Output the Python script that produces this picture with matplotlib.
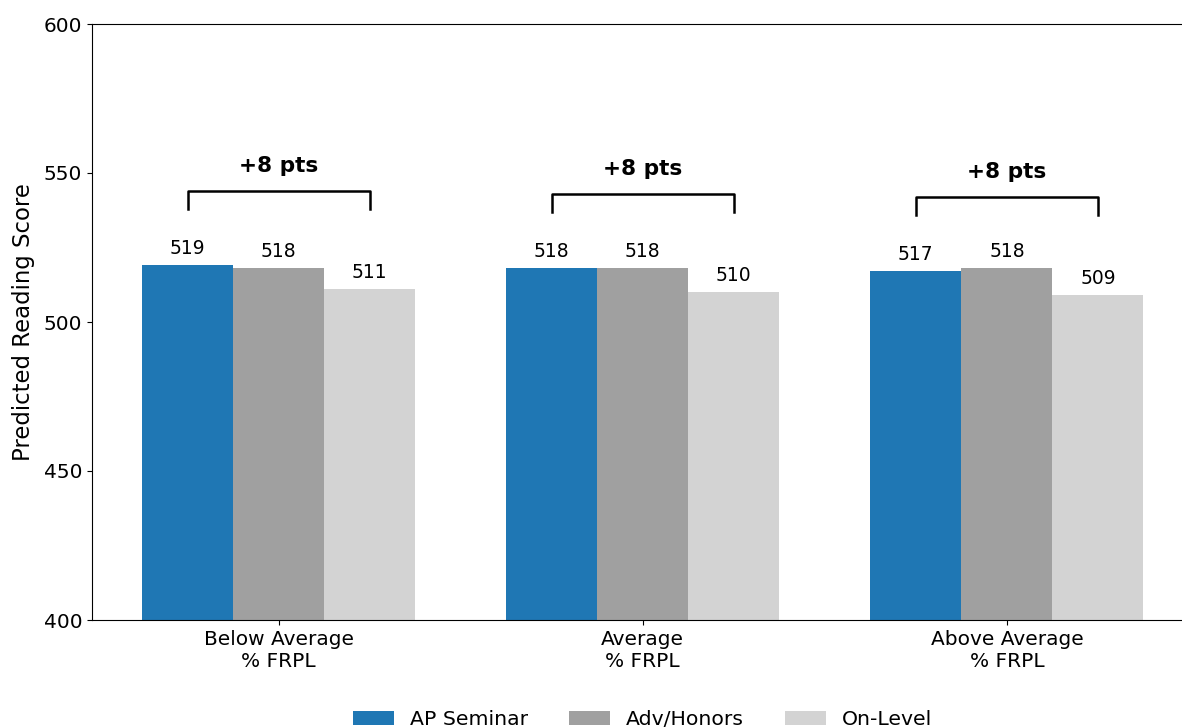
import numpy as np
import matplotlib.pyplot as plt

groups = ["Below Average\n% FRPL", "Average\n% FRPL", "Above Average\n% FRPL"]
series = ["AP Seminar", "Adv/Honors", "On-Level"]
ap_seminar = [519, 518, 517]
adv_honors = [518, 518, 518]
on_level = [511, 510, 509]
colors = ["#1f77b4", "#a0a0a0", "#d3d3d3"]

values = [ap_seminar, adv_honors, on_level]
x = np.arange(len(groups))
width = 0.25

fig = plt.figure(figsize=(11.82, 7.28), dpi=100)
ax = fig.add_axes([92 / 1182, 108 / 728, 1101.5 / 1182, 596 / 728])

for i, (name, vals) in enumerate(zip(series, values)):
    bars = ax.bar(x + (i - 1) * width, vals, width, label=name, color=colors[i])
    for b, v in zip(bars, vals):
        ax.annotate(f"{v}", (b.get_x() + b.get_width() / 2, v), xytext=(0, 5),
                    textcoords="offset points", ha="center", va="bottom", fontsize=13.5)

# bracket between AP Seminar and On-Level with the gap
for xi, top, low in zip(x, ap_seminar, on_level):
    y = top + 25
    ax.plot([xi - width, xi - width, xi + width, xi + width], [y - 6, y, y, y - 6],
            color="black", lw=1.8)
    ax.text(xi, y + 5, f"+{top - low} pts", ha="center", va="bottom",
            fontsize=15.6, fontweight="bold")

ax.set_ylim(400, 600)
ax.set_yticks([400, 450, 500, 550, 600])
ax.set_xticks(x)
ax.set_xticklabels(groups)
ax.tick_params(labelsize=14.5)
ax.set_ylabel("Predicted Reading Score", fontsize=16.4, labelpad=6)
ax.legend(loc="upper center", bbox_to_anchor=(0.5, -0.12), ncol=3, frameon=False,
          fontsize=14.7)

fig.savefig("out.png", dpi=100)
